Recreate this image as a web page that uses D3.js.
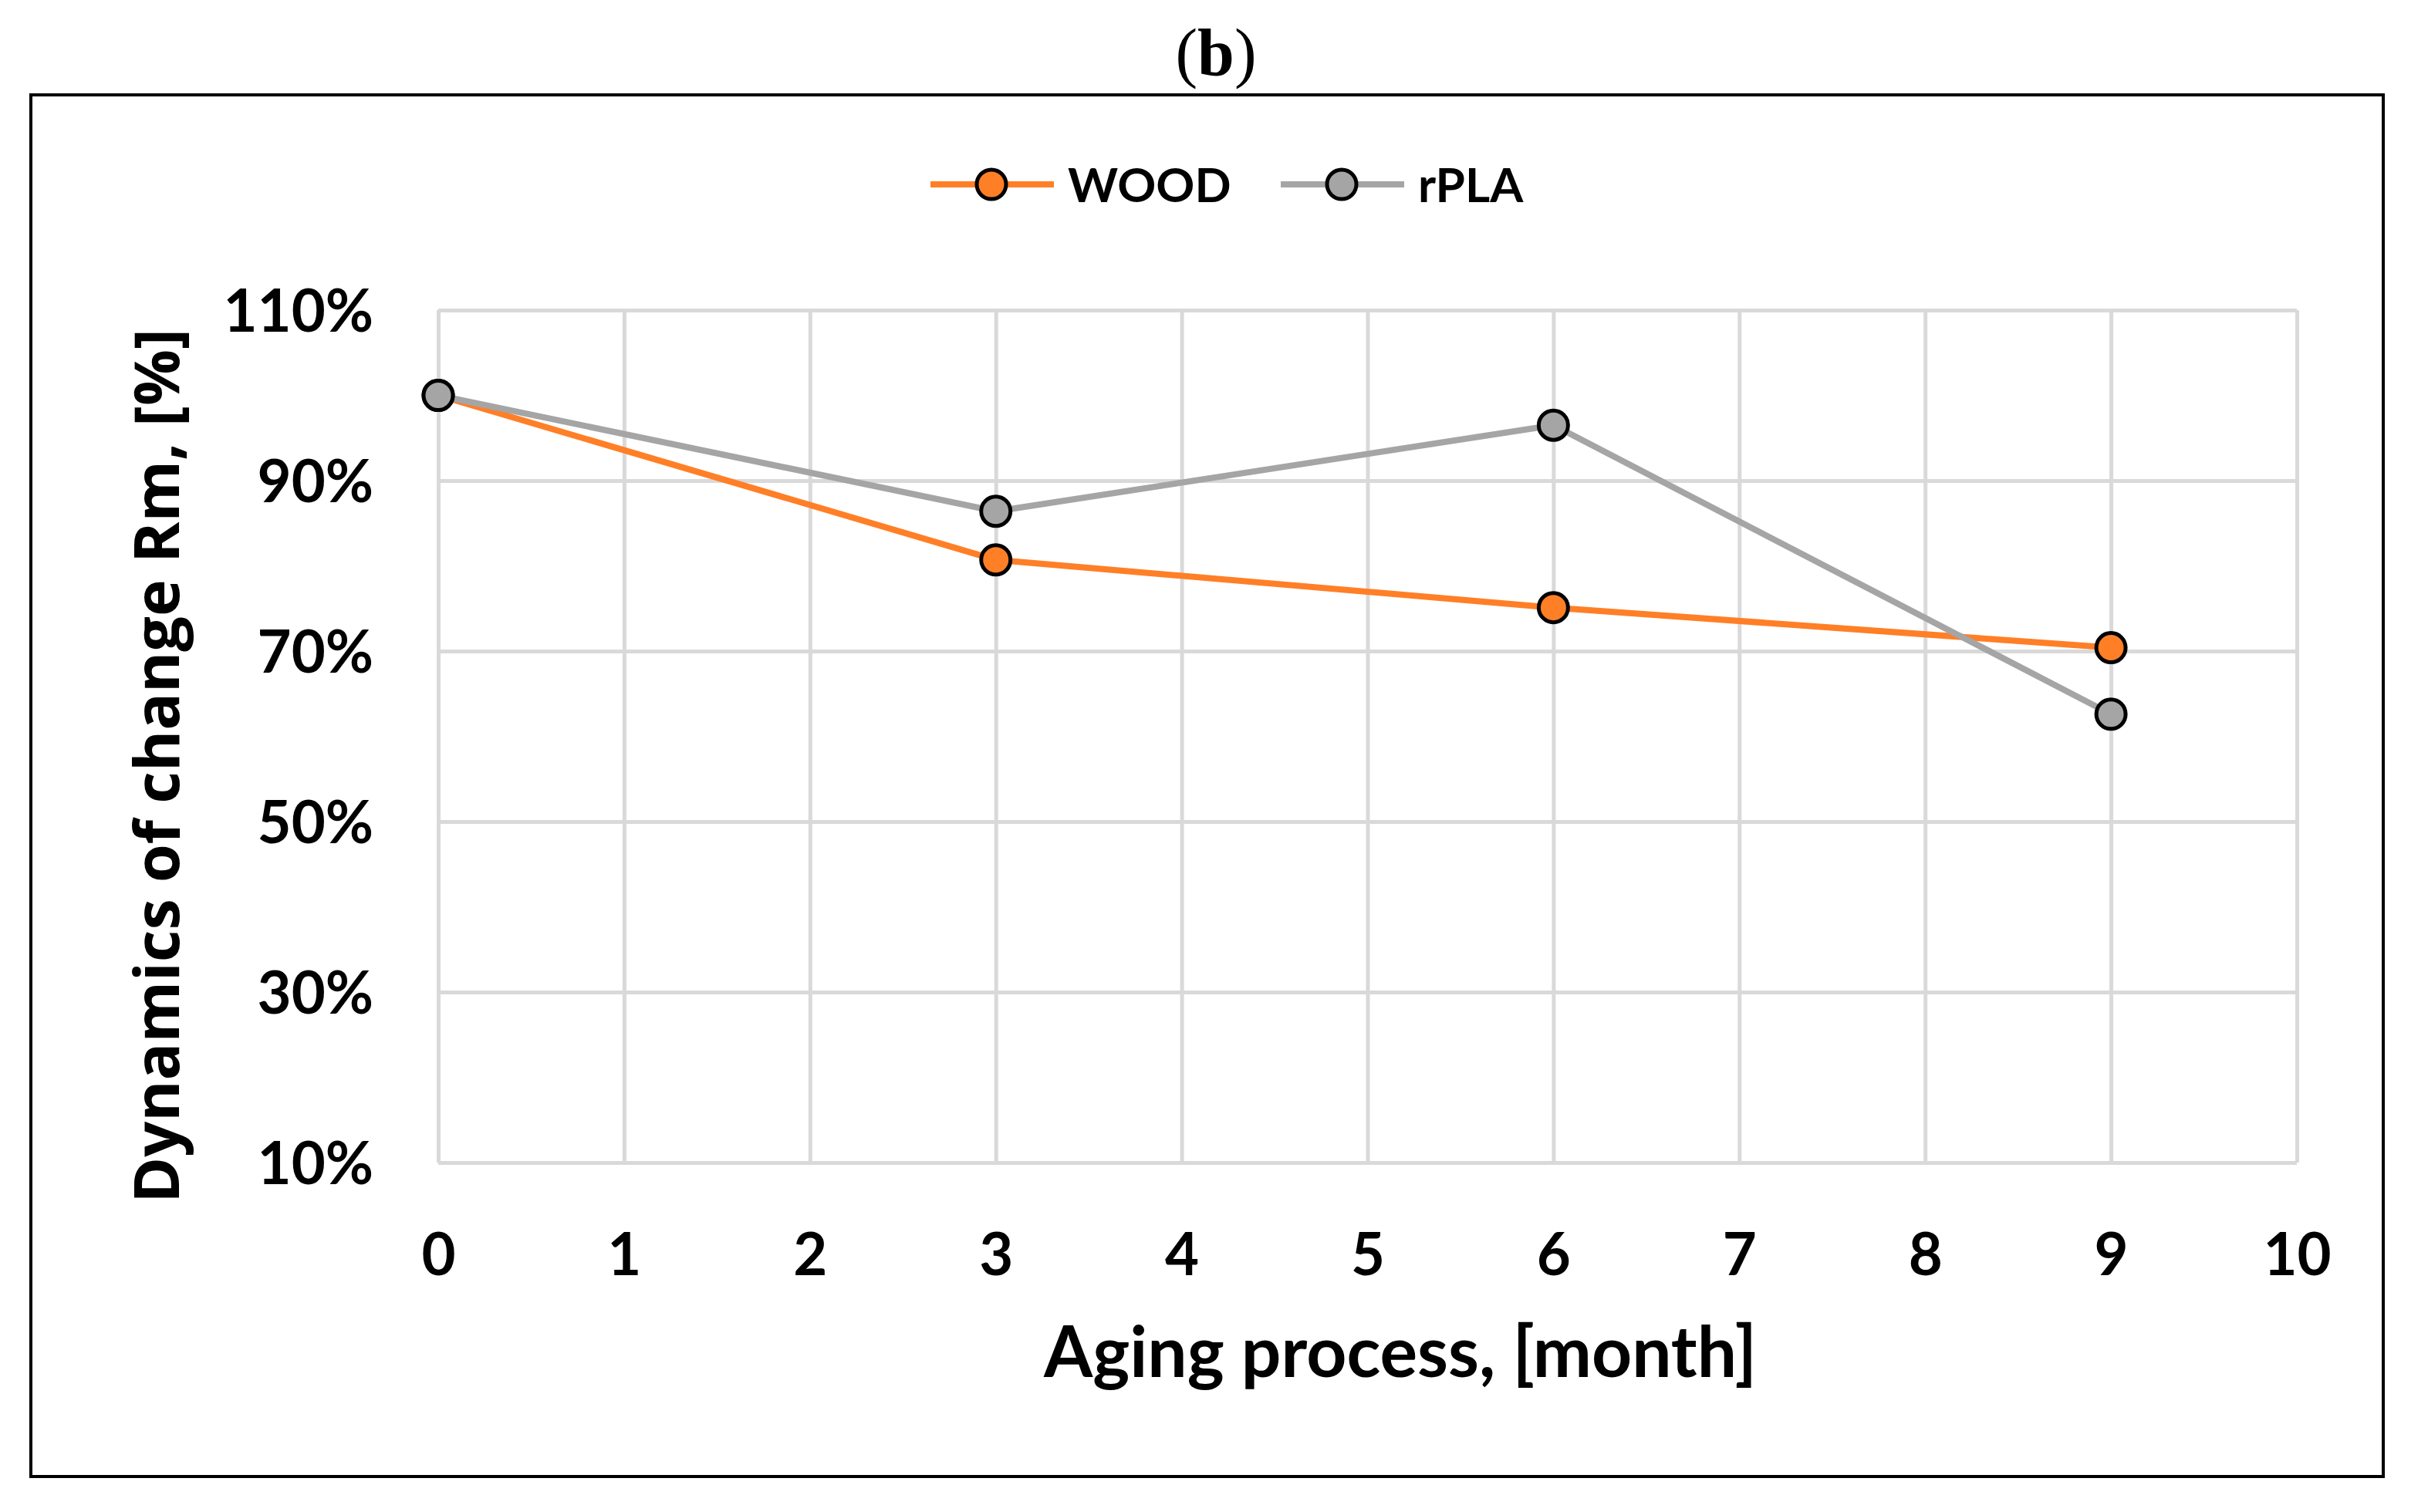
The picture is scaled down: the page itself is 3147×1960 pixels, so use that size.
<!DOCTYPE html>
<html lang="en">
<head>
    <meta charset="UTF-8">
    <title>Dynamics of change Rm</title>
    <script src="https://d3js.org/d3.v7.min.js"></script>
    <style>
        body { margin: 0; background: #fff; }
    </style>
</head>
<body>
    <svg id="chart" width="3147" height="1960"></svg>

    <script>
        // values
        var months = [0, 3, 6, 9]
        var woodValues = [100, 80.7, 75.1, 70.4]
        var rplaValues = [100, 86.4, 96.5, 62.6]
        var seriesNames = ["WOOD", "rPLA"]
        var seriesColors = ["#FF7F27", "#A5A5A5"]
        var xTickValues = [0, 1, 2, 3, 4, 5, 6, 7, 8, 9, 10]
        var yTickValues = [10, 30, 50, 70, 90, 110]

        var svg = d3.select("#chart"),
            width = +svg.attr("width"),
            height = +svg.attr("height")

        var plot = {left: 568, right: 2977, top: 402, bottom: 1507}

        var x = d3.scaleLinear().domain([0, 10]).range([plot.left, plot.right])
        var y = d3.scaleLinear().domain([10, 110]).range([plot.bottom, plot.top])

        svg.append("rect").attr("width", width).attr("height", height).attr("fill", "#fff")

        // outer frame
        svg.append("rect")
            .attr("x", 40).attr("y", 123)
            .attr("width", 3049).attr("height", 1791)
            .attr("fill", "none").attr("stroke", "#000").attr("stroke-width", 4)

        // panel label
        svg.append("text")
            .attr("x", 1576).attr("y", 97)
            .attr("text-anchor", "middle")
            .style("font-family", "'Liberation Serif', 'DejaVu Serif', serif")
            .style("font-size", "86px")
            .call(function(t){
                t.append("tspan").text("(")
                t.append("tspan").attr("font-weight", "bold").text("b")
                t.append("tspan").text(")")
            })

        // grid + tick labels
        var gx = svg.append("g")
            .attr("transform", "translate(0," + plot.bottom + ")")
            .call(d3.axisBottom(x).tickValues(xTickValues).tickSize(-(plot.bottom - plot.top)).tickPadding(0))
        var gy = svg.append("g")
            .attr("transform", "translate(" + plot.left + ",0)")
            .call(d3.axisLeft(y).tickValues(yTickValues).tickSize(-(plot.right - plot.left)).tickFormat(function(d){ return d + "%" }))

        ;[gx, gy].forEach(function(g){
            g.select(".domain").remove()
            g.selectAll(".tick line").attr("stroke", "#D9D9D9").attr("stroke-width", 5)
            g.selectAll(".tick text")
                .attr("fill", "#000")
                .style("font-family", "Lato, 'Open Sans', sans-serif")
                .style("font-weight", "bold")
                .style("font-size", "76px")
        })
        gx.selectAll(".tick text").attr("dy", null).attr("y", 146)
        gy.selectAll(".tick text").attr("x", -84).attr("dy", "0.36em")

        // series
        var line = d3.line()
            .x(function(d){ return x(d[0]) })
            .y(function(d){ return y(d[1]) })

        var series = [woodValues, rplaValues].map(function(vals, i){
            return {name: seriesNames[i], color: seriesColors[i], points: months.map(function(m, j){ return [m, vals[j]] })}
        })

        series.forEach(function(s){
            svg.append("path")
                .datum(s.points)
                .attr("d", line)
                .attr("fill", "none")
                .attr("stroke", s.color)
                .attr("stroke-width", 8)
                .attr("stroke-linejoin", "round")
        })
        series.forEach(function(s){
            svg.selectAll(null)
                .data(s.points)
                .enter().append("circle")
                .attr("cx", function(d){ return x(d[0]) })
                .attr("cy", function(d){ return y(d[1]) })
                .attr("r", 19)
                .attr("fill", s.color)
                .attr("stroke", "#000")
                .attr("stroke-width", 5)
        })

        // legend
        var legendX = [1206, 1660]
        var legend = svg.selectAll(".legend")
            .data(series)
            .enter().append("g")
            .attr("class", "legend")
            .attr("transform", function(d, i){ return "translate(" + legendX[i] + ",239)" })
        legend.append("line")
            .attr("x1", 0).attr("x2", 160)
            .attr("stroke", function(d){ return d.color })
            .attr("stroke-width", 8)
        legend.append("circle")
            .attr("cx", 79).attr("r", 19)
            .attr("fill", function(d){ return d.color })
            .attr("stroke", "#000").attr("stroke-width", 5)
        legend.append("text")
            .attr("x", 178).attr("y", 23)
            .style("font-family", "Lato, 'Open Sans', sans-serif")
            .style("font-weight", "bold")
            .style("font-size", "62px")
            .text(function(d){ return d.name })

        // axis titles
        svg.append("text")
            .attr("x", 1815).attr("y", 1785)
            .attr("text-anchor", "middle")
            .style("font-family", "Lato, 'Open Sans', sans-serif")
            .style("font-weight", "bold")
            .style("font-size", "91px")
            .text("Aging process, [month]")

        svg.append("text")
            .attr("transform", "translate(232,993) rotate(-90)")
            .attr("text-anchor", "middle")
            .style("font-family", "'Open Sans', 'DejaVu Sans', sans-serif")
            .style("font-weight", "bold")
            .style("font-size", "81px")
            .text("Dynamics of change Rm, [%]")
    </script>
</body>
</html>
